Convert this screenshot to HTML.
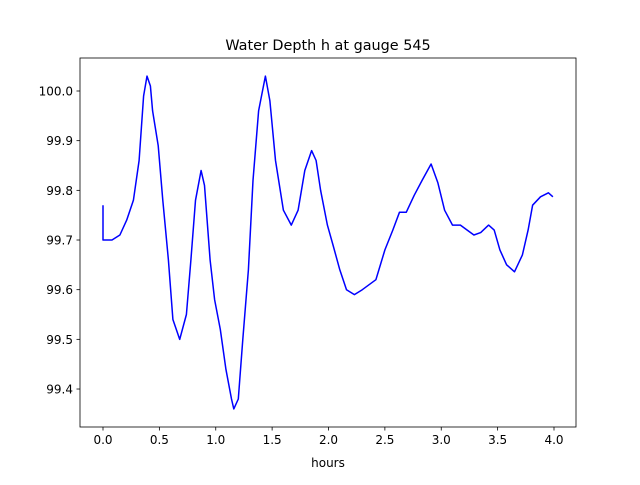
<!DOCTYPE html>
<html><head><meta charset="utf-8"><style>
body{margin:0;background:#fff;}
svg text{font-family:"DejaVu Sans","Liberation Sans",sans-serif;}
</style></head><body>
<svg id="chart" width="640" height="480">
<rect width="640" height="480" fill="#fff"/>
<text x="328" y="50" font-size="14.4" text-anchor="middle">Water Depth h at gauge 545</text>
<g id="axes"></g>
<text x="328" y="467" font-size="12" text-anchor="middle">hours</text>
</svg>
<script>
const xTicks=[0,0.5,1,1.5,2,2.5,3,3.5,4];
const xTickLabels=["0.0","0.5","1.0","1.5","2.0","2.5","3.0","3.5","4.0"];
const yTicks=[99.4,99.5,99.6,99.7,99.8,99.9,100.0];
const yTickLabels=["99.4","99.5","99.6","99.7","99.8","99.9","100.0"];
const hours=[0,0,0.08,0.15,0.21,0.27,0.32,0.36,0.39,0.42,0.44,0.49,0.53,0.58,0.62,0.68,0.74,0.78,0.82,0.87,0.90,0.95,0.99,1.04,1.09,1.14,1.16,1.20,1.24,1.29,1.33,1.38,1.44,1.48,1.53,1.60,1.67,1.73,1.79,1.85,1.89,1.93,1.99,2.04,2.10,2.16,2.23,2.30,2.36,2.42,2.50,2.57,2.63,2.69,2.76,2.83,2.91,2.97,3.03,3.10,3.17,3.23,3.29,3.35,3.42,3.47,3.52,3.58,3.65,3.72,3.77,3.81,3.88,3.95,3.99];
const depth=[99.77,99.70,99.70,99.71,99.74,99.78,99.86,99.99,100.03,100.01,99.96,99.89,99.78,99.66,99.54,99.50,99.55,99.66,99.78,99.84,99.81,99.66,99.58,99.52,99.44,99.38,99.36,99.38,99.50,99.64,99.82,99.96,100.03,99.98,99.86,99.76,99.73,99.76,99.84,99.88,99.86,99.80,99.73,99.69,99.64,99.60,99.59,99.60,99.61,99.62,99.68,99.72,99.756,99.756,99.79,99.82,99.853,99.815,99.76,99.73,99.73,99.72,99.71,99.715,99.73,99.72,99.68,99.65,99.636,99.67,99.72,99.77,99.787,99.795,99.787];
const L=80,R=576,T=58,B=427;
const xs=v=>103+v*112.75;
const ys=v=>91+(100-v)*496.7;
const NS="http://www.w3.org/2000/svg";
const g=document.getElementById('axes');
function mk(t,a){const e=document.createElementNS(NS,t);for(const k in a)e.setAttribute(k,a[k]);g.appendChild(e);return e;}
xTicks.forEach((v,i)=>{
 const t=mk('line',{x1:xs(v),x2:xs(v),y1:B,y2:B+3.5,stroke:'#000','stroke-width':0.8});
 
 
 const l=mk('text',{x:xs(v),y:B+17,'font-size':12,'text-anchor':'middle'});
 l.textContent=xTickLabels[i];
 
 
});
yTicks.forEach((v,i)=>{
 const t=mk('line',{x1:L-3.5,x2:L,y1:ys(v),y2:ys(v),stroke:'#000','stroke-width':0.8});
 
 
 const l=mk('text',{x:L-7,y:ys(v)+4.5,'font-size':12,'text-anchor':'end'});
 l.textContent=yTickLabels[i];
 
 
});
const pts=hours.map((h,i)=>xs(h).toFixed(1)+','+ys(depth[i]).toFixed(1)).join(' ');
const line=mk('polyline',{points:pts,fill:'none',stroke:'#0000ff','stroke-width':1.5,'stroke-linejoin':'round'});


const fr=mk('rect',{x:L,y:T,width:R-L,height:B-T,fill:'none',stroke:'#000','stroke-width':0.8});


</script>
</body></html>
